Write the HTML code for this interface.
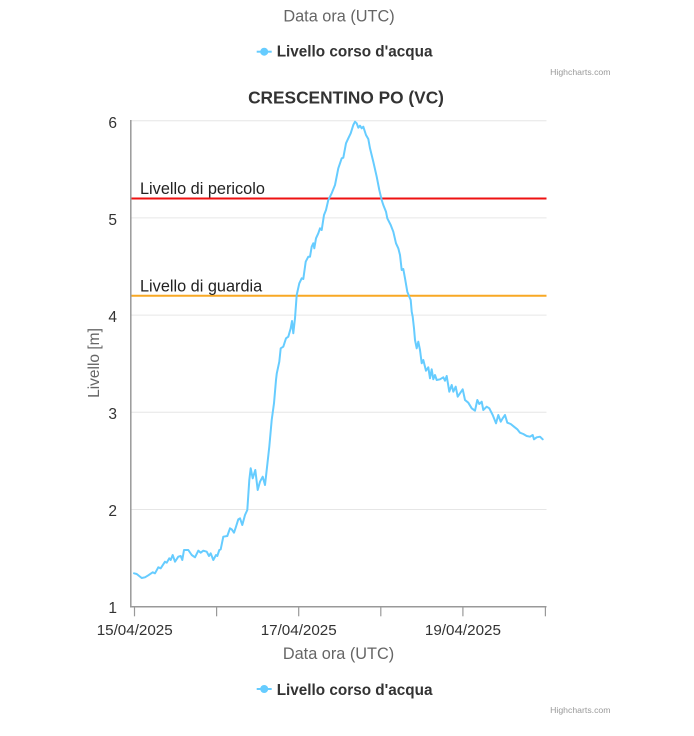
<!DOCTYPE html>
<html>
<head>
<meta charset="utf-8">
<style>
  html, body { margin: 0; padding: 0; background: #ffffff; }
  body { width: 694px; height: 736px; overflow: hidden; }
  svg { display: block; font-family: "Liberation Sans", Arial, sans-serif; }
</style>
</head>
<body>
<svg width="694" height="736" viewBox="0 0 694 736" xmlns="http://www.w3.org/2000/svg">
  <rect x="0" y="0" width="694" height="736" fill="#ffffff"/>

  <!-- Top remnant of previous chart -->
  <text x="339" y="21.5" text-anchor="middle" font-size="16.3" fill="#666666">Data ora (UTC)</text>
  <line x1="256.7" y1="51.7" x2="271.7" y2="51.7" stroke="#66ccff" stroke-width="2"/>
  <circle cx="264.2" cy="51.7" r="4" fill="#66ccff"/>
  <text x="276.7" y="56.7" font-size="15.3" font-weight="bold" fill="#333333">Livello corso d'acqua</text>
  <text x="610.5" y="75" text-anchor="end" font-size="8.7" fill="#999999">Highcharts.com</text>

  <!-- Title -->
  <text x="346" y="103.3" text-anchor="middle" font-size="17.3" font-weight="bold" fill="#333333">CRESCENTINO PO (VC)</text>

  <!-- Gridlines -->
  <g stroke="#e6e6e6" stroke-width="1">
    <line x1="131" y1="120.7" x2="546.5" y2="120.7"/>
    <line x1="131" y1="217.9" x2="546.5" y2="217.9"/>
    <line x1="131" y1="315.1" x2="546.5" y2="315.1"/>
    <line x1="131" y1="412.3" x2="546.5" y2="412.3"/>
    <line x1="131" y1="509.5" x2="546.5" y2="509.5"/>
  </g>

  <!-- Plot lines -->
  <line x1="131" y1="198.5" x2="546.5" y2="198.5" stroke="#ee1111" stroke-width="2"/>
  <line x1="131" y1="295.7" x2="546.5" y2="295.7" stroke="#f8a824" stroke-width="2"/>
  <text x="140" y="194" font-size="16.3" fill="#222222">Livello di pericolo</text>
  <text x="140" y="291.7" font-size="16.3" fill="#222222">Livello di guardia</text>

  <!-- Axes -->
  <line x1="130.8" y1="120" x2="130.8" y2="607.5" stroke="#999999" stroke-width="1.5"/>
  <line x1="130" y1="606.8" x2="546.5" y2="606.8" stroke="#999999" stroke-width="1.5"/>
  <g stroke="#999999" stroke-width="1.2">
    <line x1="134.5" y1="606.8" x2="134.5" y2="616.3"/>
    <line x1="216.6" y1="606.8" x2="216.6" y2="616.3"/>
    <line x1="298.7" y1="606.8" x2="298.7" y2="616.3"/>
    <line x1="380.8" y1="606.8" x2="380.8" y2="616.3"/>
    <line x1="462.9" y1="606.8" x2="462.9" y2="616.3"/>
    <line x1="545.4" y1="606.8" x2="545.4" y2="616.3"/>
  </g>

  <!-- Y labels -->
  <g font-size="15.5" fill="#333333" text-anchor="end">
    <text x="117" y="128">6</text>
    <text x="117" y="225">5</text>
    <text x="117" y="322">4</text>
    <text x="117" y="419">3</text>
    <text x="117" y="516">2</text>
    <text x="117" y="613">1</text>
  </g>
  <text transform="translate(99,363) rotate(-90)" text-anchor="middle" font-size="15.5" fill="#666666">Livello [m]</text>

  <!-- X labels -->
  <g font-size="15.2" fill="#333333" text-anchor="middle">
    <text x="134.7" y="635">15/04/2025</text>
    <text x="298.7" y="635">17/04/2025</text>
    <text x="462.9" y="635">19/04/2025</text>
  </g>
  <text x="338.5" y="659" text-anchor="middle" font-size="16.3" fill="#666666">Data ora (UTC)</text>

  <!-- Series -->
  <polyline fill="none" stroke="#66ccff" stroke-width="2" stroke-linejoin="round" stroke-linecap="round" points="
134,573.3 136.7,574 141.7,578 145,577.3 148.3,575.3 152.7,572.3 155,573.3 158.3,567.3 160.7,568.3 165,561.7 166.7,562.7 169.3,558.3 170.7,560 172.7,555 175,561.7 178.3,556.7 180.7,556 182.3,560 184,550 188.3,550 191.7,555 195,557.3 198.3,550.7 200.7,552.7 203.3,550.7 206.7,551.7 209,556 210.7,553.3 213.3,560 216,555 217.3,556 219.3,550 220.7,549.3 223.3,536.7 227.3,536 230,528.3 231.7,529.3 234,532.7 236,526.7 238.3,519.3 240,518.3 242.3,525 245,515 247.3,510 249.3,480 250.7,468.3 252.7,478.3 255.3,470 257.7,490 260,481.7 262.7,476.7 265,485 266.7,470 269.3,446.7 271.7,420 274,403.3 276,380 276.8,373.3 279.3,361.7 280.7,348.3 283.3,346.7 286,338.3 288.3,336.7 290.7,328.3 292,321 293.3,333.3 295,318.3 296.7,295 299.3,283.3 301.7,278.3 303.3,279 305.7,261.7 308.3,256.7 310,256.7 311.7,246.7 313.3,243.3 314.3,248.3 316,238.3 318.3,233.3 320,228.3 321.7,230 324,215 326,210 328.3,200 331.7,193.3 335,185 338.3,168.3 341.7,158.3 343.3,157.7 346,143.3 348.3,138.3 350.7,133.3 353.3,125 355,121.7 356.7,123.3 358.3,127.7 360,125.7 361.7,128.3 363.3,126.7 366,135 368.3,139 370,148.3 373.3,161.7 376.7,176.7 379.3,190 381.7,200 383.3,205 386,211.7 387.3,218.3 390.7,225 393.3,231.7 396,243.3 398.3,248.3 400,255 401.7,270 403.3,269 405,278.3 407.3,291.7 409.3,296.7 410.7,300 411.7,311.7 412.7,316.7 414,328.3 415,340 416.7,348.3 418.3,341.7 420,350 421.7,363.3 423.3,360 426,370.7 428.3,367.3 430,378.3 431.7,369.3 433.3,379.3 435,375 436.7,380 440,379.3 443.3,377.3 445,380.7 446.7,376 449.3,391.7 451.7,385 453.3,391.7 455.7,386.7 457.7,396.7 460,393.3 462.7,389.3 465,400 468.3,402.7 471.7,408.3 475,410.7 477.3,400 479.3,404 481.7,401.7 483.3,410 486.7,406.7 489.3,408.3 492.7,415 496,423.3 498.3,415 500.7,421.7 502.7,418.3 505,415 507.3,422.7 510.7,424 514,426.7 517.3,429.3 520,432.7 523.3,434 526.7,436 530,436.7 532.7,435 534,439.3 536.7,437.3 540,436.7 542.7,439.3"/>

  <!-- Bottom legend -->
  <line x1="256.7" y1="689" x2="271.7" y2="689" stroke="#66ccff" stroke-width="2"/>
  <circle cx="264.2" cy="689" r="4" fill="#66ccff"/>
  <text x="276.7" y="695" font-size="15.3" font-weight="bold" fill="#333333">Livello corso d'acqua</text>
  <text x="610.5" y="713" text-anchor="end" font-size="8.7" fill="#999999">Highcharts.com</text>
</svg>
</body>
</html>
